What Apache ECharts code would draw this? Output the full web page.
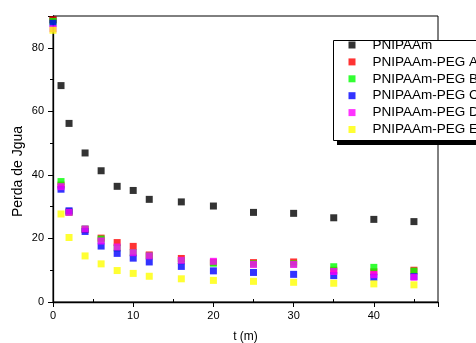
<!DOCTYPE html>
<html>
<head>
<meta charset="utf-8">
<script src="https://cdn.jsdelivr.net/npm/echarts@6/dist/echarts.min.js"></script>
<style>html,body{margin:0;padding:0;background:#fff;}#c{width:476px;height:343px;}</style>
</head>
<body>
<div id="c"></div>
<script>
var times = [0, 1, 2, 4, 6, 8, 10, 12, 16, 20, 25, 30, 35, 40, 45];
var seriesNames = ['PNIPAAm', 'PNIPAAm-PEG A', 'PNIPAAm-PEG B', 'PNIPAAm-PEG C', 'PNIPAAm-PEG D', 'PNIPAAm-PEG E'];
var pnipaam = [88.8, 68.1, 56.2, 46.9, 41.3, 36.4, 35.1, 32.3, 31.5, 30.2, 28.2, 27.9, 26.5, 26.0, 25.3];
var pegA = [88.8, 36.8, 28.3, 22.8, 20.1, 18.7, 17.5, 14.8, 13.7, 12.5, 12.4, 12.6, 10.0, 9.5, 10.0];
var pegB = [88.3, 37.9, 28.3, 23.0, 19.8, 17.0, 15.5, 14.5, 13.0, 12.2, 12.0, 12.0, 11.1, 10.9, 9.7];
var pegC = [87.7, 35.5, 28.7, 22.2, 17.6, 15.3, 13.8, 12.6, 11.2, 9.8, 9.3, 8.7, 8.3, 7.8, 8.0];
var pegD = [86.0, 36.3, 28.2, 23.0, 19.2, 17.3, 15.5, 14.5, 13.1, 12.8, 11.8, 11.8, 9.6, 8.6, 7.8];
var pegE = [85.5, 27.7, 20.3, 14.5, 12.0, 9.9, 9.0, 8.1, 7.3, 6.8, 6.5, 6.2, 5.9, 5.7, 5.4];
var colors = ['#000000', '#ff0000', '#00ff00', '#0000ff', '#ff00ff', '#ffff00'];
var allValues = [pnipaam, pegA, pegB, pegC, pegD, pegE];
var xTicks = [0, 10, 20, 30, 40];
var yTicks = [0, 20, 40, 60, 80];

var font = 'Liberation Sans, Arial, sans-serif';
var chart = echarts.init(document.getElementById('c'), null, {renderer: 'canvas'});

function pairs(vals) {
  return times.map(function (t, i) { return [t, vals[i]]; });
}

var series = seriesNames.map(function (n, i) {
  return {
    name: n,
    type: 'scatter',
    xAxisIndex: 0,
    yAxisIndex: 0,
    symbol: 'rect',
    symbolSize: 7,
    itemStyle: {color: colors[i]},
    data: pairs(allValues[i]),
    clip: true,
    z: 2 + i
  };
});

chart.setOption({
  animation: false,
  backgroundColor: '#ffffff',
  grid: {left: 53, right: 38, top: 16, bottom: 41, show: true, borderColor: '#000', borderWidth: 1,
    backgroundColor: 'transparent', containLabel: false, outerBoundsMode: 'none'},
  xAxis: [{
    type: 'value', min: 0, max: 48, interval: 10,
    name: 't (m)', nameLocation: 'middle', nameGap: 29,
    nameTextStyle: {fontFamily: font, fontSize: 12, color: '#000'},
    axisLine: {lineStyle: {color: '#000', width: 1.3}},
    axisTick: {show: true, length: 5, lineStyle: {color: '#000'}},
    axisLabel: {fontFamily: font, fontSize: 11, color: '#000', margin: 8,
      formatter: function (v) { return xTicks.indexOf(v) >= 0 ? String(v) : ''; }},
    splitLine: {show: false}
  }, {
    type: 'value', min: 0, max: 48, interval: 10, position: 'bottom',
    axisLine: {show: false},
    axisTick: {show: false, inside: true},
    minorTick: {show: true, splitNumber: 2, length: 3, lineStyle: {color: '#000'}},
    axisLabel: {show: false},
    splitLine: {show: false}
  }],
  yAxis: {
    type: 'value', min: 0, max: 90, interval: 20,
    axisLine: {show: true, lineStyle: {color: '#000', width: 1.3}},
    axisTick: {show: true, length: 5, lineStyle: {color: '#000'}},
    minorTick: {show: true, splitNumber: 2, length: 3, lineStyle: {color: '#000'}},
    axisLabel: {fontFamily: font, fontSize: 11, color: '#000', margin: 9,
      formatter: function (v) { return yTicks.indexOf(v) >= 0 ? String(v) : ''; }},
    splitLine: {show: false}
  },
  legend: {
    orient: 'vertical',
    z: 20,
    left: 348.5, top: 38, padding: 0,
    itemWidth: 7, itemHeight: 7, itemGap: 2.9,
    icon: 'rect',
    selectedMode: false,
    data: seriesNames,
    textStyle: {fontFamily: font, fontSize: 13.5, color: '#000', lineHeight: 14, padding: [0, 0, 0, 12]}
  },
  graphic: [
    {type: 'rect', left: 337, top: 45, z: 1, shape: {width: 200, height: 100}, style: {fill: '#000'}},
    {type: 'rect', left: 333, top: 40, z: 2, shape: {width: 200, height: 100}, style: {fill: '#fff', stroke: '#000', lineWidth: 1}},
    {type: 'text', left: 11, top: 126, z: 10, rotation: Math.PI / 2,
      style: {text: 'Perda de Jgua', font: '14px ' + font, fill: '#000'}}
  ],
  series: series
});
</script>
</body>
</html>
